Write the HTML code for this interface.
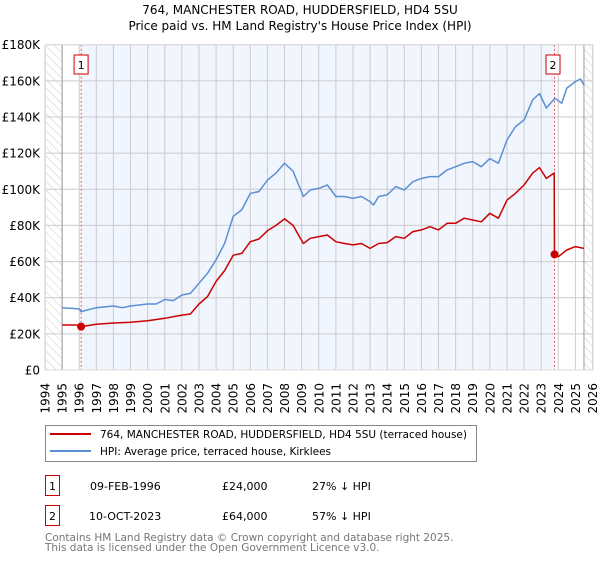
<!DOCTYPE html>
<html><head><meta charset="utf-8"><style>
body{margin:0;background:#fff;width:600px;height:560px;overflow:hidden;font-family:"DejaVu Sans","Liberation Sans",sans-serif}
svg text{font-family:"DejaVu Sans","Liberation Sans",sans-serif}
</style></head><body>
<svg id="c" width="600" height="560">
<defs><pattern id="hatch" width="6" height="6" patternUnits="userSpaceOnUse" patternTransform="rotate(-45)"><line x1="0" y1="0" x2="0" y2="6" stroke="#ccc" stroke-width="1"/></pattern></defs>
<text x="300" y="14" text-anchor="middle" font-size="12" fill="#000">764, MANCHESTER ROAD, HUDDERSFIELD, HD4 5SU</text>
<text x="300" y="30" text-anchor="middle" font-size="12" fill="#000">Price paid vs. HM Land Registry's House Price Index (HPI)</text>
<g id="plot"></g>
<g>
<rect x="45.5" y="425.5" width="431" height="36" fill="#fff" stroke="#888"/>
<line x1="50" y1="434" x2="91" y2="434" stroke="#cc0000" stroke-width="2"/>
<text x="100" y="438" font-size="10.5">764, MANCHESTER ROAD, HUDDERSFIELD, HD4 5SU (terraced house)</text>
<line x1="50" y1="451" x2="91" y2="451" stroke="#5b8fd4" stroke-width="2"/>
<text x="100" y="455" font-size="10.5">HPI: Average price, terraced house, Kirklees</text>
</g>
<g font-size="11">
<rect x="45.5" y="475.5" width="14" height="20" fill="#fff" stroke="#cc0000"/><text x="52.5" y="490" text-anchor="middle">1</text>
<text x="90" y="490">09-FEB-1996</text><text x="222" y="490">£24,000</text><text x="312" y="490">27% ↓ HPI</text>
<rect x="45.5" y="505.5" width="14" height="20" fill="#fff" stroke="#cc0000"/><text x="52.5" y="520" text-anchor="middle">2</text>
<text x="89" y="520">10-OCT-2023</text><text x="222" y="520">£64,000</text><text x="312" y="520">57% ↓ HPI</text>
</g>
<text x="45" y="541" font-size="10.5" fill="#777">Contains HM Land Registry data © Crown copyright and database right 2025.</text>
<text x="45" y="551" font-size="10.5" fill="#777">This data is licensed under the Open Government Licence v3.0.</text>
</svg>
<script>
const hpiYears=[1995,1996,1996.1,1997,1998,1998.5,1999,2000,2000.5,2001,2001.5,2002,2002.5,2003,2003.5,2004,2004.5,2005,2005.5,2006,2006.5,2007,2007.5,2008,2008.5,2008.8,2009.1,2009.5,2010,2010.5,2011,2011.5,2012,2012.5,2013,2013.2,2013.5,2014,2014.5,2015,2015.5,2016,2016.5,2017,2017.5,2018,2018.5,2019,2019.5,2020,2020.5,2021,2021.5,2022,2022.5,2022.9,2023.3,2023.8,2024.2,2024.5,2025,2025.3,2025.5];
const hpiValues=[34.5,33.8,32.3,34.5,35.4,34.5,35.4,36.5,36.5,39,38.4,41.5,42.4,48,53.5,61,70,85,88.6,97.8,98.7,105,109,114.4,110,103,96,99.6,100.5,102.4,96,96,95,96,93.2,91.3,96,96.9,101.5,99.6,104.2,106,107,107,110.7,112.5,114.4,115.3,112.5,117,114.4,127.3,134.7,138.4,149.4,153,145,150.4,147.6,156,159.6,161,157.7];
const priceYears=[1995,1996,1996.11,1997,1998,1999,2000,2001,2002,2002.5,2003,2003.5,2004,2004.5,2005,2005.5,2006,2006.5,2007,2007.5,2008,2008.5,2008.8,2009.1,2009.5,2010,2010.5,2011,2011.5,2012,2012.5,2013,2013.5,2014,2014.5,2015,2015.5,2016,2016.5,2017,2017.5,2018,2018.5,2019,2019.5,2020,2020.5,2021,2021.5,2022,2022.5,2022.9,2023.3,2023.76,2023.78,2024,2024.5,2025,2025.5];
const priceValues=[24.9,24.9,24,25.3,26,26.4,27.2,28.6,30.4,31,36.5,40.6,49,55,63.5,64.5,71,72.5,77,80,83.6,80,75,70,72.9,73.8,74.7,71,70,69.2,70,67.3,70,70.5,73.8,72.9,76.6,77.5,79.3,77.5,81.2,81.2,84,83,82,86.7,84,94,97.8,102.4,108.9,112,106,109,64,62.7,66.4,68.3,67.3];
const saleYears=[1996.11,2023.78];
const saleValues=[24,64];
const saleLabels=["1","2"];
const yTicks=[0,20,40,60,80,100,120,140,160,180];
const yTickLabels=["£0","£20K","£40K","£60K","£80K","£100K","£120K","£140K","£160K","£180K"];
const xTicks=[1994,1995,1996,1997,1998,1999,2000,2001,2002,2003,2004,2005,2006,2007,2008,2009,2010,2011,2012,2013,2014,2015,2016,2017,2018,2019,2020,2021,2022,2023,2024,2025,2026];

const X0=45,X1=592.5,Y0=370,Y1=44.7,x0y=1994,x1y=2026;
const sx=v=>X0+(v-x0y)/(x1y-x0y)*(X1-X0);
const sy=v=>Y0-v/180*(Y0-Y1);
const NS="http://www.w3.org/2000/svg";
const g=document.getElementById('plot');
function mk(t,a){const e=document.createElementNS(NS,t);for(const k in a)e.setAttribute(k,a[k]);g.appendChild(e);return e;}
let e;
e=mk('rect',{x:X0,y:Y1,width:X1-X0,height:Y0-Y1,fill:'#fff'});


e=mk('rect',{x:sx(saleYears[0]),y:Y1,width:sx(saleYears[1])-sx(saleYears[0]),height:Y0-Y1,fill:'#f1f5fd'});


e=mk('rect',{x:X0,y:Y1,width:sx(1995)-X0,height:Y0-Y1,fill:'url(#hatch)'});


e=mk('rect',{x:sx(2025.5),y:Y1,width:X1-sx(2025.5),height:Y0-Y1,fill:'url(#hatch)'});


xTicks.forEach(t=>{
 e=mk('line',{x1:sx(t),x2:sx(t),y1:Y1,y2:Y0,stroke:'#ccc','stroke-width':1});
 
 
 e=mk('text',{x:0,y:0,'font-size':12,'text-anchor':'end',transform:`translate(${sx(t)+4.5},383) rotate(-90)`});
 e.textContent=t;
 
 
});
yTicks.forEach((t,i)=>{
 e=mk('line',{x1:X0,x2:X1,y1:sy(t),y2:sy(t),stroke:'#ccc','stroke-width':1});
 
 
 e=mk('text',{x:40,y:sy(t)+4.5,'font-size':12,'text-anchor':'end'});
 e.textContent=yTickLabels[i];
 
 
});
e=mk('line',{x1:sx(1995),x2:sx(1995),y1:Y1,y2:Y0,stroke:'#999','stroke-width':1});


e=mk('line',{x1:sx(2025.5),x2:sx(2025.5),y1:Y1,y2:Y0,stroke:'#999','stroke-width':1});


saleYears.forEach((s,i)=>{
 e=mk('line',{x1:sx(s),x2:sx(s),y1:Y1,y2:Y0,stroke:'#e06060','stroke-width':1,'stroke-dasharray':'2,2'});
 
 
});
const pts=(xs,ys)=>xs.map((v,i)=>sx(v).toFixed(1)+','+sy(ys[i]).toFixed(1)).join(' ');
e=mk('polyline',{points:pts(hpiYears,hpiValues),fill:'none',stroke:'#5b8fd4','stroke-width':1.5,'stroke-linejoin':'round'});


e=mk('polyline',{points:pts(priceYears,priceValues),fill:'none',stroke:'#cc0000','stroke-width':1.5,'stroke-linejoin':'round'});


saleYears.forEach((s,i)=>{
 e=mk('circle',{cx:sx(s),cy:sy(saleValues[i]),r:4,fill:'#cc0000'});
 
 
 e=mk('rect',{x:sx(s)-7-(i?1.5:0),y:55,width:14,height:19,fill:'#fff',stroke:'#cc0000'});
 
 
 e=mk('text',{x:sx(s)-(i?1.5:0),y:69,'font-size':11,'text-anchor':'middle'});
 e.textContent=saleLabels[i];
 
 
});
e=mk('rect',{x:X0+0.5,y:Y1,width:X1-X0,height:Y0-Y1,fill:'none',stroke:'#ddd'});


</script>
</body></html>
